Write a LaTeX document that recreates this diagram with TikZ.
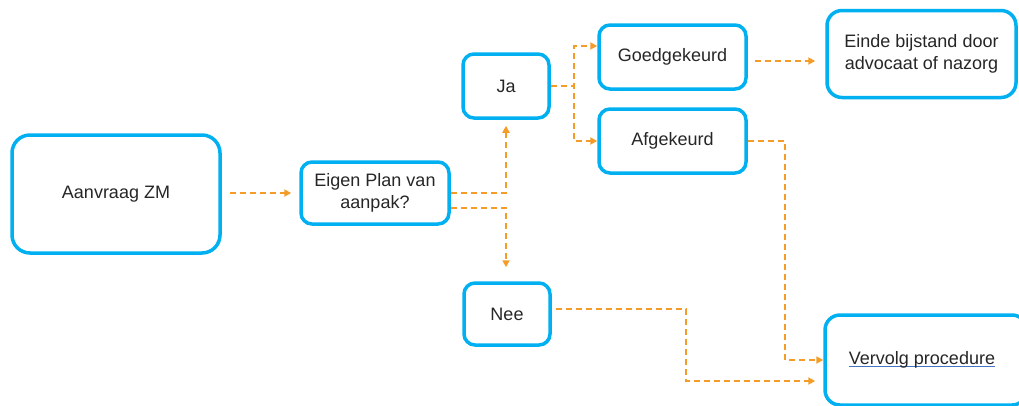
\documentclass[tikz,border=0pt]{standalone}
\usepackage{fontspec}
\setmainfont{Liberation Sans}
\usepackage{tikz}
\usetikzlibrary{arrows.meta}
\definecolor{boxblue}{RGB}{0,176,240}
\definecolor{flowor}{RGB}{245,155,40}
\definecolor{txtgray}{RGB}{38,38,38}
\definecolor{linkblue}{RGB}{68,114,196}
\newcommand{\blueul}[1]{\setbox0\hbox{#1}\rlap{\color{linkblue}\rule[-2.5pt]{\wd0}{1.2pt}}\box0}
\begin{document}
\begin{tikzpicture}[x=1pt, y=-1pt]
\tikzset{box/.style={rectangle, draw=boxblue, line width=3.5pt, rounded corners=11pt, align=center, text=txtgray, font=\fontsize{18}{22}\selectfont}, flow/.style={draw=flowor, line width=2pt, dash pattern=on 6pt off 4pt, -{Triangle[length=7pt, width=7pt]}}}
% Normalize bounding box
\useasboundingbox (0,0) rectangle (1019,405);
\clip (0,0) rectangle (1019,405);

\node[box, rounded corners=18pt, minimum width=208pt, minimum height=118pt] (AZ) at (116,194) {Aanvraag ZM};
\node[box, minimum width=148pt, minimum height=62pt] (PL) at (375,193) {Eigen Plan van\\aanpak?};
\node[box, minimum width=86pt, minimum height=64pt] (JA) at (506,86) {Ja};
\node[box, minimum width=86pt, minimum height=62pt] (NEE) at (507,314) {Nee};
\node[box, minimum width=147pt, minimum height=64pt] (GOED) at (672.5,57) {Goedgekeurd};
\node[box, minimum width=147pt, minimum height=64pt] (AF) at (672.5,141) {Afgekeurd};
\node[box, rounded corners=15pt, minimum width=189pt, minimum height=87pt] (EINDE) at (921.5,54) {Einde bijstand door\\advocaat of nazorg};
\node[box, rounded corners=15pt, minimum width=202pt, minimum height=90pt] (VERV) at (926,360) {\blueul{Vervolg procedure}\hspace*{8pt}};

% bends of the connectors
\coordinate (JB) at (574,86);
\coordinate (AFB) at (785,141);
\coordinate (NB) at (686,309);

\draw[flow, shorten <=8pt, shorten >=8pt] (AZ.east |- PL.west) -- (PL.west);
\draw[flow, shorten >=6pt] (PL.east) -| (JA.south);
\draw[flow, shorten >=14pt] ([yshift=-15pt]PL.east) -| (JA.south |- NEE.north);
\draw[flow] (JA.east) -- (JB) |- ([yshift=11pt]GOED.west);
\draw[flow] (JA.east) -- (JB) |- (AF.west);
\draw[flow, shorten <=7pt, shorten >=10pt] ([yshift=-4pt]GOED.east) -- ([yshift=-4pt]GOED.east -| EINDE.west);
\draw[flow] (AF.east) -- (AFB) |- (VERV.west);
\draw[flow, shorten <=4pt, shorten >=8pt] ([yshift=5pt]NEE.east) -- (NB) |- ([yshift=-21pt]VERV.west);

\end{tikzpicture}
\end{document}
